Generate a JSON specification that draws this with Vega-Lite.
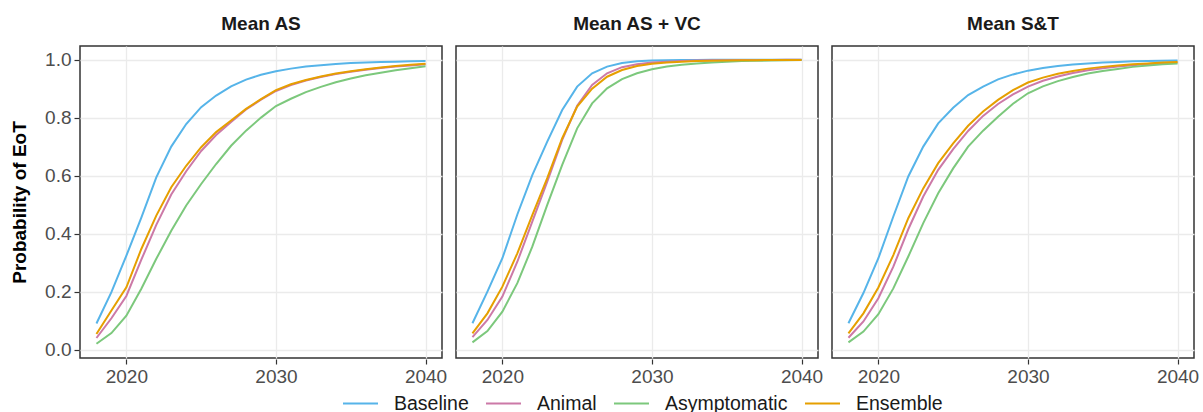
{
  "$schema": "https://vega.github.io/schema/vega-lite/v6.json",
  "padding": {"left": 10, "top": 15, "right": 5, "bottom": 0},
  "datasets": {
    "curves": [
      {"panel":"Mean AS","model":"Baseline","year":2018,"p":0.09},{"panel":"Mean AS","model":"Baseline","year":2019,"p":0.198},{"panel":"Mean AS","model":"Baseline","year":2020,"p":0.324},{"panel":"Mean AS","model":"Baseline","year":2021,"p":0.455},{"panel":"Mean AS","model":"Baseline","year":2022,"p":0.594},{"panel":"Mean AS","model":"Baseline","year":2023,"p":0.70},{"panel":"Mean AS","model":"Baseline","year":2024,"p":0.778},{"panel":"Mean AS","model":"Baseline","year":2025,"p":0.836},{"panel":"Mean AS","model":"Baseline","year":2026,"p":0.876},{"panel":"Mean AS","model":"Baseline","year":2027,"p":0.908},{"panel":"Mean AS","model":"Baseline","year":2028,"p":0.931},{"panel":"Mean AS","model":"Baseline","year":2029,"p":0.948},{"panel":"Mean AS","model":"Baseline","year":2030,"p":0.96},{"panel":"Mean AS","model":"Baseline","year":2031,"p":0.969},{"panel":"Mean AS","model":"Baseline","year":2032,"p":0.976},{"panel":"Mean AS","model":"Baseline","year":2033,"p":0.981},{"panel":"Mean AS","model":"Baseline","year":2034,"p":0.985},{"panel":"Mean AS","model":"Baseline","year":2035,"p":0.988},{"panel":"Mean AS","model":"Baseline","year":2036,"p":0.99},{"panel":"Mean AS","model":"Baseline","year":2037,"p":0.992},{"panel":"Mean AS","model":"Baseline","year":2038,"p":0.993},{"panel":"Mean AS","model":"Baseline","year":2039,"p":0.994},{"panel":"Mean AS","model":"Baseline","year":2040,"p":0.995},
      {"panel":"Mean AS","model":"Animal","year":2018,"p":0.04},{"panel":"Mean AS","model":"Animal","year":2019,"p":0.108},{"panel":"Mean AS","model":"Animal","year":2020,"p":0.185},{"panel":"Mean AS","model":"Animal","year":2021,"p":0.31},{"panel":"Mean AS","model":"Animal","year":2022,"p":0.43},{"panel":"Mean AS","model":"Animal","year":2023,"p":0.535},{"panel":"Mean AS","model":"Animal","year":2024,"p":0.615},{"panel":"Mean AS","model":"Animal","year":2025,"p":0.685},{"panel":"Mean AS","model":"Animal","year":2026,"p":0.74},{"panel":"Mean AS","model":"Animal","year":2027,"p":0.785},{"panel":"Mean AS","model":"Animal","year":2028,"p":0.828},{"panel":"Mean AS","model":"Animal","year":2029,"p":0.862},{"panel":"Mean AS","model":"Animal","year":2030,"p":0.892},{"panel":"Mean AS","model":"Animal","year":2031,"p":0.912},{"panel":"Mean AS","model":"Animal","year":2032,"p":0.928},{"panel":"Mean AS","model":"Animal","year":2033,"p":0.94},{"panel":"Mean AS","model":"Animal","year":2034,"p":0.95},{"panel":"Mean AS","model":"Animal","year":2035,"p":0.958},{"panel":"Mean AS","model":"Animal","year":2036,"p":0.965},{"panel":"Mean AS","model":"Animal","year":2037,"p":0.971},{"panel":"Mean AS","model":"Animal","year":2038,"p":0.976},{"panel":"Mean AS","model":"Animal","year":2039,"p":0.98},{"panel":"Mean AS","model":"Animal","year":2040,"p":0.984},
      {"panel":"Mean AS","model":"Asymptomatic","year":2018,"p":0.02},{"panel":"Mean AS","model":"Asymptomatic","year":2019,"p":0.057},{"panel":"Mean AS","model":"Asymptomatic","year":2020,"p":0.117},{"panel":"Mean AS","model":"Asymptomatic","year":2021,"p":0.21},{"panel":"Mean AS","model":"Asymptomatic","year":2022,"p":0.313},{"panel":"Mean AS","model":"Asymptomatic","year":2023,"p":0.41},{"panel":"Mean AS","model":"Asymptomatic","year":2024,"p":0.497},{"panel":"Mean AS","model":"Asymptomatic","year":2025,"p":0.571},{"panel":"Mean AS","model":"Asymptomatic","year":2026,"p":0.64},{"panel":"Mean AS","model":"Asymptomatic","year":2027,"p":0.703},{"panel":"Mean AS","model":"Asymptomatic","year":2028,"p":0.755},{"panel":"Mean AS","model":"Asymptomatic","year":2029,"p":0.80},{"panel":"Mean AS","model":"Asymptomatic","year":2030,"p":0.84},{"panel":"Mean AS","model":"Asymptomatic","year":2031,"p":0.865},{"panel":"Mean AS","model":"Asymptomatic","year":2032,"p":0.888},{"panel":"Mean AS","model":"Asymptomatic","year":2033,"p":0.906},{"panel":"Mean AS","model":"Asymptomatic","year":2034,"p":0.922},{"panel":"Mean AS","model":"Asymptomatic","year":2035,"p":0.935},{"panel":"Mean AS","model":"Asymptomatic","year":2036,"p":0.946},{"panel":"Mean AS","model":"Asymptomatic","year":2037,"p":0.955},{"panel":"Mean AS","model":"Asymptomatic","year":2038,"p":0.963},{"panel":"Mean AS","model":"Asymptomatic","year":2039,"p":0.97},{"panel":"Mean AS","model":"Asymptomatic","year":2040,"p":0.977},
      {"panel":"Mean AS","model":"Ensemble","year":2018,"p":0.054},{"panel":"Mean AS","model":"Ensemble","year":2019,"p":0.135},{"panel":"Mean AS","model":"Ensemble","year":2020,"p":0.215},{"panel":"Mean AS","model":"Ensemble","year":2021,"p":0.347},{"panel":"Mean AS","model":"Ensemble","year":2022,"p":0.462},{"panel":"Mean AS","model":"Ensemble","year":2023,"p":0.56},{"panel":"Mean AS","model":"Ensemble","year":2024,"p":0.634},{"panel":"Mean AS","model":"Ensemble","year":2025,"p":0.698},{"panel":"Mean AS","model":"Ensemble","year":2026,"p":0.75},{"panel":"Mean AS","model":"Ensemble","year":2027,"p":0.79},{"panel":"Mean AS","model":"Ensemble","year":2028,"p":0.83},{"panel":"Mean AS","model":"Ensemble","year":2029,"p":0.864},{"panel":"Mean AS","model":"Ensemble","year":2030,"p":0.895},{"panel":"Mean AS","model":"Ensemble","year":2031,"p":0.915},{"panel":"Mean AS","model":"Ensemble","year":2032,"p":0.93},{"panel":"Mean AS","model":"Ensemble","year":2033,"p":0.942},{"panel":"Mean AS","model":"Ensemble","year":2034,"p":0.952},{"panel":"Mean AS","model":"Ensemble","year":2035,"p":0.96},{"panel":"Mean AS","model":"Ensemble","year":2036,"p":0.967},{"panel":"Mean AS","model":"Ensemble","year":2037,"p":0.973},{"panel":"Mean AS","model":"Ensemble","year":2038,"p":0.978},{"panel":"Mean AS","model":"Ensemble","year":2039,"p":0.982},{"panel":"Mean AS","model":"Ensemble","year":2040,"p":0.986},

      {"panel":"Mean AS + VC","model":"Baseline","year":2018,"p":0.091},{"panel":"Mean AS + VC","model":"Baseline","year":2019,"p":0.2},{"panel":"Mean AS + VC","model":"Baseline","year":2020,"p":0.315},{"panel":"Mean AS + VC","model":"Baseline","year":2021,"p":0.466},{"panel":"Mean AS + VC","model":"Baseline","year":2022,"p":0.602},{"panel":"Mean AS + VC","model":"Baseline","year":2023,"p":0.717},{"panel":"Mean AS + VC","model":"Baseline","year":2024,"p":0.826},{"panel":"Mean AS + VC","model":"Baseline","year":2025,"p":0.907},{"panel":"Mean AS + VC","model":"Baseline","year":2026,"p":0.953},{"panel":"Mean AS + VC","model":"Baseline","year":2027,"p":0.976},{"panel":"Mean AS + VC","model":"Baseline","year":2028,"p":0.988},{"panel":"Mean AS + VC","model":"Baseline","year":2029,"p":0.994},{"panel":"Mean AS + VC","model":"Baseline","year":2030,"p":0.997},{"panel":"Mean AS + VC","model":"Baseline","year":2031,"p":0.998},{"panel":"Mean AS + VC","model":"Baseline","year":2032,"p":0.999},{"panel":"Mean AS + VC","model":"Baseline","year":2033,"p":0.999},{"panel":"Mean AS + VC","model":"Baseline","year":2034,"p":1.0},{"panel":"Mean AS + VC","model":"Baseline","year":2035,"p":1.0},{"panel":"Mean AS + VC","model":"Baseline","year":2036,"p":1.0},{"panel":"Mean AS + VC","model":"Baseline","year":2037,"p":1.0},{"panel":"Mean AS + VC","model":"Baseline","year":2038,"p":1.0},{"panel":"Mean AS + VC","model":"Baseline","year":2039,"p":1.0},{"panel":"Mean AS + VC","model":"Baseline","year":2040,"p":1.0},
      {"panel":"Mean AS + VC","model":"Animal","year":2018,"p":0.043},{"panel":"Mean AS + VC","model":"Animal","year":2019,"p":0.102},{"panel":"Mean AS + VC","model":"Animal","year":2020,"p":0.183},{"panel":"Mean AS + VC","model":"Animal","year":2021,"p":0.303},{"panel":"Mean AS + VC","model":"Animal","year":2022,"p":0.441},{"panel":"Mean AS + VC","model":"Animal","year":2023,"p":0.579},{"panel":"Mean AS + VC","model":"Animal","year":2024,"p":0.723},{"panel":"Mean AS + VC","model":"Animal","year":2025,"p":0.841},{"panel":"Mean AS + VC","model":"Animal","year":2026,"p":0.913},{"panel":"Mean AS + VC","model":"Animal","year":2027,"p":0.953},{"panel":"Mean AS + VC","model":"Animal","year":2028,"p":0.974},{"panel":"Mean AS + VC","model":"Animal","year":2029,"p":0.984},{"panel":"Mean AS + VC","model":"Animal","year":2030,"p":0.99},{"panel":"Mean AS + VC","model":"Animal","year":2031,"p":0.993},{"panel":"Mean AS + VC","model":"Animal","year":2032,"p":0.995},{"panel":"Mean AS + VC","model":"Animal","year":2033,"p":0.997},{"panel":"Mean AS + VC","model":"Animal","year":2034,"p":0.998},{"panel":"Mean AS + VC","model":"Animal","year":2035,"p":0.998},{"panel":"Mean AS + VC","model":"Animal","year":2036,"p":0.999},{"panel":"Mean AS + VC","model":"Animal","year":2037,"p":0.999},{"panel":"Mean AS + VC","model":"Animal","year":2038,"p":0.999},{"panel":"Mean AS + VC","model":"Animal","year":2039,"p":1.0},{"panel":"Mean AS + VC","model":"Animal","year":2040,"p":1.0},
      {"panel":"Mean AS + VC","model":"Asymptomatic","year":2018,"p":0.025},{"panel":"Mean AS + VC","model":"Asymptomatic","year":2019,"p":0.064},{"panel":"Mean AS + VC","model":"Asymptomatic","year":2020,"p":0.131},{"panel":"Mean AS + VC","model":"Asymptomatic","year":2021,"p":0.229},{"panel":"Mean AS + VC","model":"Asymptomatic","year":2022,"p":0.355},{"panel":"Mean AS + VC","model":"Asymptomatic","year":2023,"p":0.499},{"panel":"Mean AS + VC","model":"Asymptomatic","year":2024,"p":0.637},{"panel":"Mean AS + VC","model":"Asymptomatic","year":2025,"p":0.763},{"panel":"Mean AS + VC","model":"Asymptomatic","year":2026,"p":0.849},{"panel":"Mean AS + VC","model":"Asymptomatic","year":2027,"p":0.901},{"panel":"Mean AS + VC","model":"Asymptomatic","year":2028,"p":0.933},{"panel":"Mean AS + VC","model":"Asymptomatic","year":2029,"p":0.953},{"panel":"Mean AS + VC","model":"Asymptomatic","year":2030,"p":0.967},{"panel":"Mean AS + VC","model":"Asymptomatic","year":2031,"p":0.976},{"panel":"Mean AS + VC","model":"Asymptomatic","year":2032,"p":0.982},{"panel":"Mean AS + VC","model":"Asymptomatic","year":2033,"p":0.987},{"panel":"Mean AS + VC","model":"Asymptomatic","year":2034,"p":0.99},{"panel":"Mean AS + VC","model":"Asymptomatic","year":2035,"p":0.993},{"panel":"Mean AS + VC","model":"Asymptomatic","year":2036,"p":0.995},{"panel":"Mean AS + VC","model":"Asymptomatic","year":2037,"p":0.996},{"panel":"Mean AS + VC","model":"Asymptomatic","year":2038,"p":0.997},{"panel":"Mean AS + VC","model":"Asymptomatic","year":2039,"p":0.998},{"panel":"Mean AS + VC","model":"Asymptomatic","year":2040,"p":0.999},
      {"panel":"Mean AS + VC","model":"Ensemble","year":2018,"p":0.056},{"panel":"Mean AS + VC","model":"Ensemble","year":2019,"p":0.125},{"panel":"Mean AS + VC","model":"Ensemble","year":2020,"p":0.217},{"panel":"Mean AS + VC","model":"Ensemble","year":2021,"p":0.332},{"panel":"Mean AS + VC","model":"Ensemble","year":2022,"p":0.464},{"panel":"Mean AS + VC","model":"Ensemble","year":2023,"p":0.591},{"panel":"Mean AS + VC","model":"Ensemble","year":2024,"p":0.729},{"panel":"Mean AS + VC","model":"Ensemble","year":2025,"p":0.838},{"panel":"Mean AS + VC","model":"Ensemble","year":2026,"p":0.9},{"panel":"Mean AS + VC","model":"Ensemble","year":2027,"p":0.941},{"panel":"Mean AS + VC","model":"Ensemble","year":2028,"p":0.964},{"panel":"Mean AS + VC","model":"Ensemble","year":2029,"p":0.978},{"panel":"Mean AS + VC","model":"Ensemble","year":2030,"p":0.986},{"panel":"Mean AS + VC","model":"Ensemble","year":2031,"p":0.99},{"panel":"Mean AS + VC","model":"Ensemble","year":2032,"p":0.993},{"panel":"Mean AS + VC","model":"Ensemble","year":2033,"p":0.995},{"panel":"Mean AS + VC","model":"Ensemble","year":2034,"p":0.996},{"panel":"Mean AS + VC","model":"Ensemble","year":2035,"p":0.997},{"panel":"Mean AS + VC","model":"Ensemble","year":2036,"p":0.998},{"panel":"Mean AS + VC","model":"Ensemble","year":2037,"p":0.998},{"panel":"Mean AS + VC","model":"Ensemble","year":2038,"p":0.999},{"panel":"Mean AS + VC","model":"Ensemble","year":2039,"p":0.999},{"panel":"Mean AS + VC","model":"Ensemble","year":2040,"p":0.999},

      {"panel":"Mean S&T","model":"Baseline","year":2018,"p":0.091},{"panel":"Mean S&T","model":"Baseline","year":2019,"p":0.195},{"panel":"Mean S&T","model":"Baseline","year":2020,"p":0.315},{"panel":"Mean S&T","model":"Baseline","year":2021,"p":0.459},{"panel":"Mean S&T","model":"Baseline","year":2022,"p":0.597},{"panel":"Mean S&T","model":"Baseline","year":2023,"p":0.70},{"panel":"Mean S&T","model":"Baseline","year":2024,"p":0.78},{"panel":"Mean S&T","model":"Baseline","year":2025,"p":0.834},{"panel":"Mean S&T","model":"Baseline","year":2026,"p":0.878},{"panel":"Mean S&T","model":"Baseline","year":2027,"p":0.907},{"panel":"Mean S&T","model":"Baseline","year":2028,"p":0.932},{"panel":"Mean S&T","model":"Baseline","year":2029,"p":0.949},{"panel":"Mean S&T","model":"Baseline","year":2030,"p":0.962},{"panel":"Mean S&T","model":"Baseline","year":2031,"p":0.971},{"panel":"Mean S&T","model":"Baseline","year":2032,"p":0.978},{"panel":"Mean S&T","model":"Baseline","year":2033,"p":0.983},{"panel":"Mean S&T","model":"Baseline","year":2034,"p":0.987},{"panel":"Mean S&T","model":"Baseline","year":2035,"p":0.99},{"panel":"Mean S&T","model":"Baseline","year":2036,"p":0.992},{"panel":"Mean S&T","model":"Baseline","year":2037,"p":0.994},{"panel":"Mean S&T","model":"Baseline","year":2038,"p":0.995},{"panel":"Mean S&T","model":"Baseline","year":2039,"p":0.996},{"panel":"Mean S&T","model":"Baseline","year":2040,"p":0.997},
      {"panel":"Mean S&T","model":"Animal","year":2018,"p":0.041},{"panel":"Mean S&T","model":"Animal","year":2019,"p":0.097},{"panel":"Mean S&T","model":"Animal","year":2020,"p":0.177},{"panel":"Mean S&T","model":"Animal","year":2021,"p":0.286},{"panel":"Mean S&T","model":"Animal","year":2022,"p":0.415},{"panel":"Mean S&T","model":"Animal","year":2023,"p":0.528},{"panel":"Mean S&T","model":"Animal","year":2024,"p":0.62},{"panel":"Mean S&T","model":"Animal","year":2025,"p":0.691},{"panel":"Mean S&T","model":"Animal","year":2026,"p":0.754},{"panel":"Mean S&T","model":"Animal","year":2027,"p":0.806},{"panel":"Mean S&T","model":"Animal","year":2028,"p":0.847},{"panel":"Mean S&T","model":"Animal","year":2029,"p":0.88},{"panel":"Mean S&T","model":"Animal","year":2030,"p":0.907},{"panel":"Mean S&T","model":"Animal","year":2031,"p":0.927},{"panel":"Mean S&T","model":"Animal","year":2032,"p":0.942},{"panel":"Mean S&T","model":"Animal","year":2033,"p":0.954},{"panel":"Mean S&T","model":"Animal","year":2034,"p":0.963},{"panel":"Mean S&T","model":"Animal","year":2035,"p":0.97},{"panel":"Mean S&T","model":"Animal","year":2036,"p":0.976},{"panel":"Mean S&T","model":"Animal","year":2037,"p":0.981},{"panel":"Mean S&T","model":"Animal","year":2038,"p":0.985},{"panel":"Mean S&T","model":"Animal","year":2039,"p":0.988},{"panel":"Mean S&T","model":"Animal","year":2040,"p":0.99},
      {"panel":"Mean S&T","model":"Asymptomatic","year":2018,"p":0.025},{"panel":"Mean S&T","model":"Asymptomatic","year":2019,"p":0.062},{"panel":"Mean S&T","model":"Asymptomatic","year":2020,"p":0.122},{"panel":"Mean S&T","model":"Asymptomatic","year":2021,"p":0.211},{"panel":"Mean S&T","model":"Asymptomatic","year":2022,"p":0.321},{"panel":"Mean S&T","model":"Asymptomatic","year":2023,"p":0.436},{"panel":"Mean S&T","model":"Asymptomatic","year":2024,"p":0.539},{"panel":"Mean S&T","model":"Asymptomatic","year":2025,"p":0.625},{"panel":"Mean S&T","model":"Asymptomatic","year":2026,"p":0.70},{"panel":"Mean S&T","model":"Asymptomatic","year":2027,"p":0.755},{"panel":"Mean S&T","model":"Asymptomatic","year":2028,"p":0.803},{"panel":"Mean S&T","model":"Asymptomatic","year":2029,"p":0.848},{"panel":"Mean S&T","model":"Asymptomatic","year":2030,"p":0.884},{"panel":"Mean S&T","model":"Asymptomatic","year":2031,"p":0.908},{"panel":"Mean S&T","model":"Asymptomatic","year":2032,"p":0.926},{"panel":"Mean S&T","model":"Asymptomatic","year":2033,"p":0.94},{"panel":"Mean S&T","model":"Asymptomatic","year":2034,"p":0.952},{"panel":"Mean S&T","model":"Asymptomatic","year":2035,"p":0.961},{"panel":"Mean S&T","model":"Asymptomatic","year":2036,"p":0.968},{"panel":"Mean S&T","model":"Asymptomatic","year":2037,"p":0.975},{"panel":"Mean S&T","model":"Asymptomatic","year":2038,"p":0.98},{"panel":"Mean S&T","model":"Asymptomatic","year":2039,"p":0.984},{"panel":"Mean S&T","model":"Asymptomatic","year":2040,"p":0.987},
      {"panel":"Mean S&T","model":"Ensemble","year":2018,"p":0.056},{"panel":"Mean S&T","model":"Ensemble","year":2019,"p":0.125},{"panel":"Mean S&T","model":"Ensemble","year":2020,"p":0.214},{"panel":"Mean S&T","model":"Ensemble","year":2021,"p":0.326},{"panel":"Mean S&T","model":"Ensemble","year":2022,"p":0.453},{"panel":"Mean S&T","model":"Ensemble","year":2023,"p":0.556},{"panel":"Mean S&T","model":"Ensemble","year":2024,"p":0.643},{"panel":"Mean S&T","model":"Ensemble","year":2025,"p":0.711},{"panel":"Mean S&T","model":"Ensemble","year":2026,"p":0.772},{"panel":"Mean S&T","model":"Ensemble","year":2027,"p":0.821},{"panel":"Mean S&T","model":"Ensemble","year":2028,"p":0.861},{"panel":"Mean S&T","model":"Ensemble","year":2029,"p":0.895},{"panel":"Mean S&T","model":"Ensemble","year":2030,"p":0.921},{"panel":"Mean S&T","model":"Ensemble","year":2031,"p":0.938},{"panel":"Mean S&T","model":"Ensemble","year":2032,"p":0.951},{"panel":"Mean S&T","model":"Ensemble","year":2033,"p":0.961},{"panel":"Mean S&T","model":"Ensemble","year":2034,"p":0.969},{"panel":"Mean S&T","model":"Ensemble","year":2035,"p":0.975},{"panel":"Mean S&T","model":"Ensemble","year":2036,"p":0.98},{"panel":"Mean S&T","model":"Ensemble","year":2037,"p":0.984},{"panel":"Mean S&T","model":"Ensemble","year":2038,"p":0.987},{"panel":"Mean S&T","model":"Ensemble","year":2039,"p":0.99},{"panel":"Mean S&T","model":"Ensemble","year":2040,"p":0.992}
    ]
  },
  "data": {"name": "curves"},
  "facet": {
    "column": {
      "field": "panel",
      "type": "nominal",
      "sort": ["Mean AS", "Mean AS + VC", "Mean S&T"],
      "title": null,
      "header": {"labelFontSize": 19, "labelFontWeight": "bold", "labelColor": "#1A1A1A", "labelPadding": 11}
    }
  },
  "spacing": 12,
  "spec": {
    "width": 362,
    "height": 312,
    "mark": {"type": "line", "strokeWidth": 2, "clip": true},
    "encoding": {
      "x": {
        "field": "year", "type": "quantitative",
        "scale": {"domain": [2016.9, 2041.1], "nice": false, "zero": false},
        "axis": {"values": [2020, 2030, 2040], "format": "d", "title": null}
      },
      "y": {
        "field": "p", "type": "quantitative",
        "scale": {"domain": [-0.029, 1.047], "nice": false, "zero": false},
        "axis": {"values": [0, 0.2, 0.4, 0.6, 0.8, 1.0], "format": ".1f", "title": "Probability of EoT"}
      },
      "color": {
        "field": "model", "type": "nominal",
        "scale": {"domain": ["Baseline", "Animal", "Asymptomatic", "Ensemble"], "range": ["#56B4E9", "#CC79A7", "#7CC87C", "#E69F00"]},
        "legend": {
          "title": null, "orient": "none", "direction": "horizontal",
          "legendX": 262, "legendY": 339
        }
      }
    }
  },
  "config": {
    "font": "Liberation Sans",
    "background": "white",
    "view": {"stroke": "#333333", "strokeWidth": 1.5},
    "axis": {
      "domain": false,
      "grid": true,
      "gridColor": "#EBEBEB",
      "gridWidth": 1.3,
      "tickColor": "#333333",
      "tickSize": 5,
      "tickWidth": 1.2,
      "labelColor": "#4D4D4D",
      "labelFontSize": 19,
      "labelPadding": 3,
      "titleFontSize": 19,
      "titleFontWeight": "bold",
      "titleColor": "#000000",
      "titlePadding": 15
    },
    "legend": {
      "symbolType": "stroke",
      "symbolSize": 1225,
      "symbolStrokeWidth": 2,
      "labelFontSize": 19.5,
      "labelColor": "#1A1A1A",
      "labelOffset": 15,
      "columnPadding": 13,
      "padding": 0,
      "labelLimit": 300
    }
  }
}
